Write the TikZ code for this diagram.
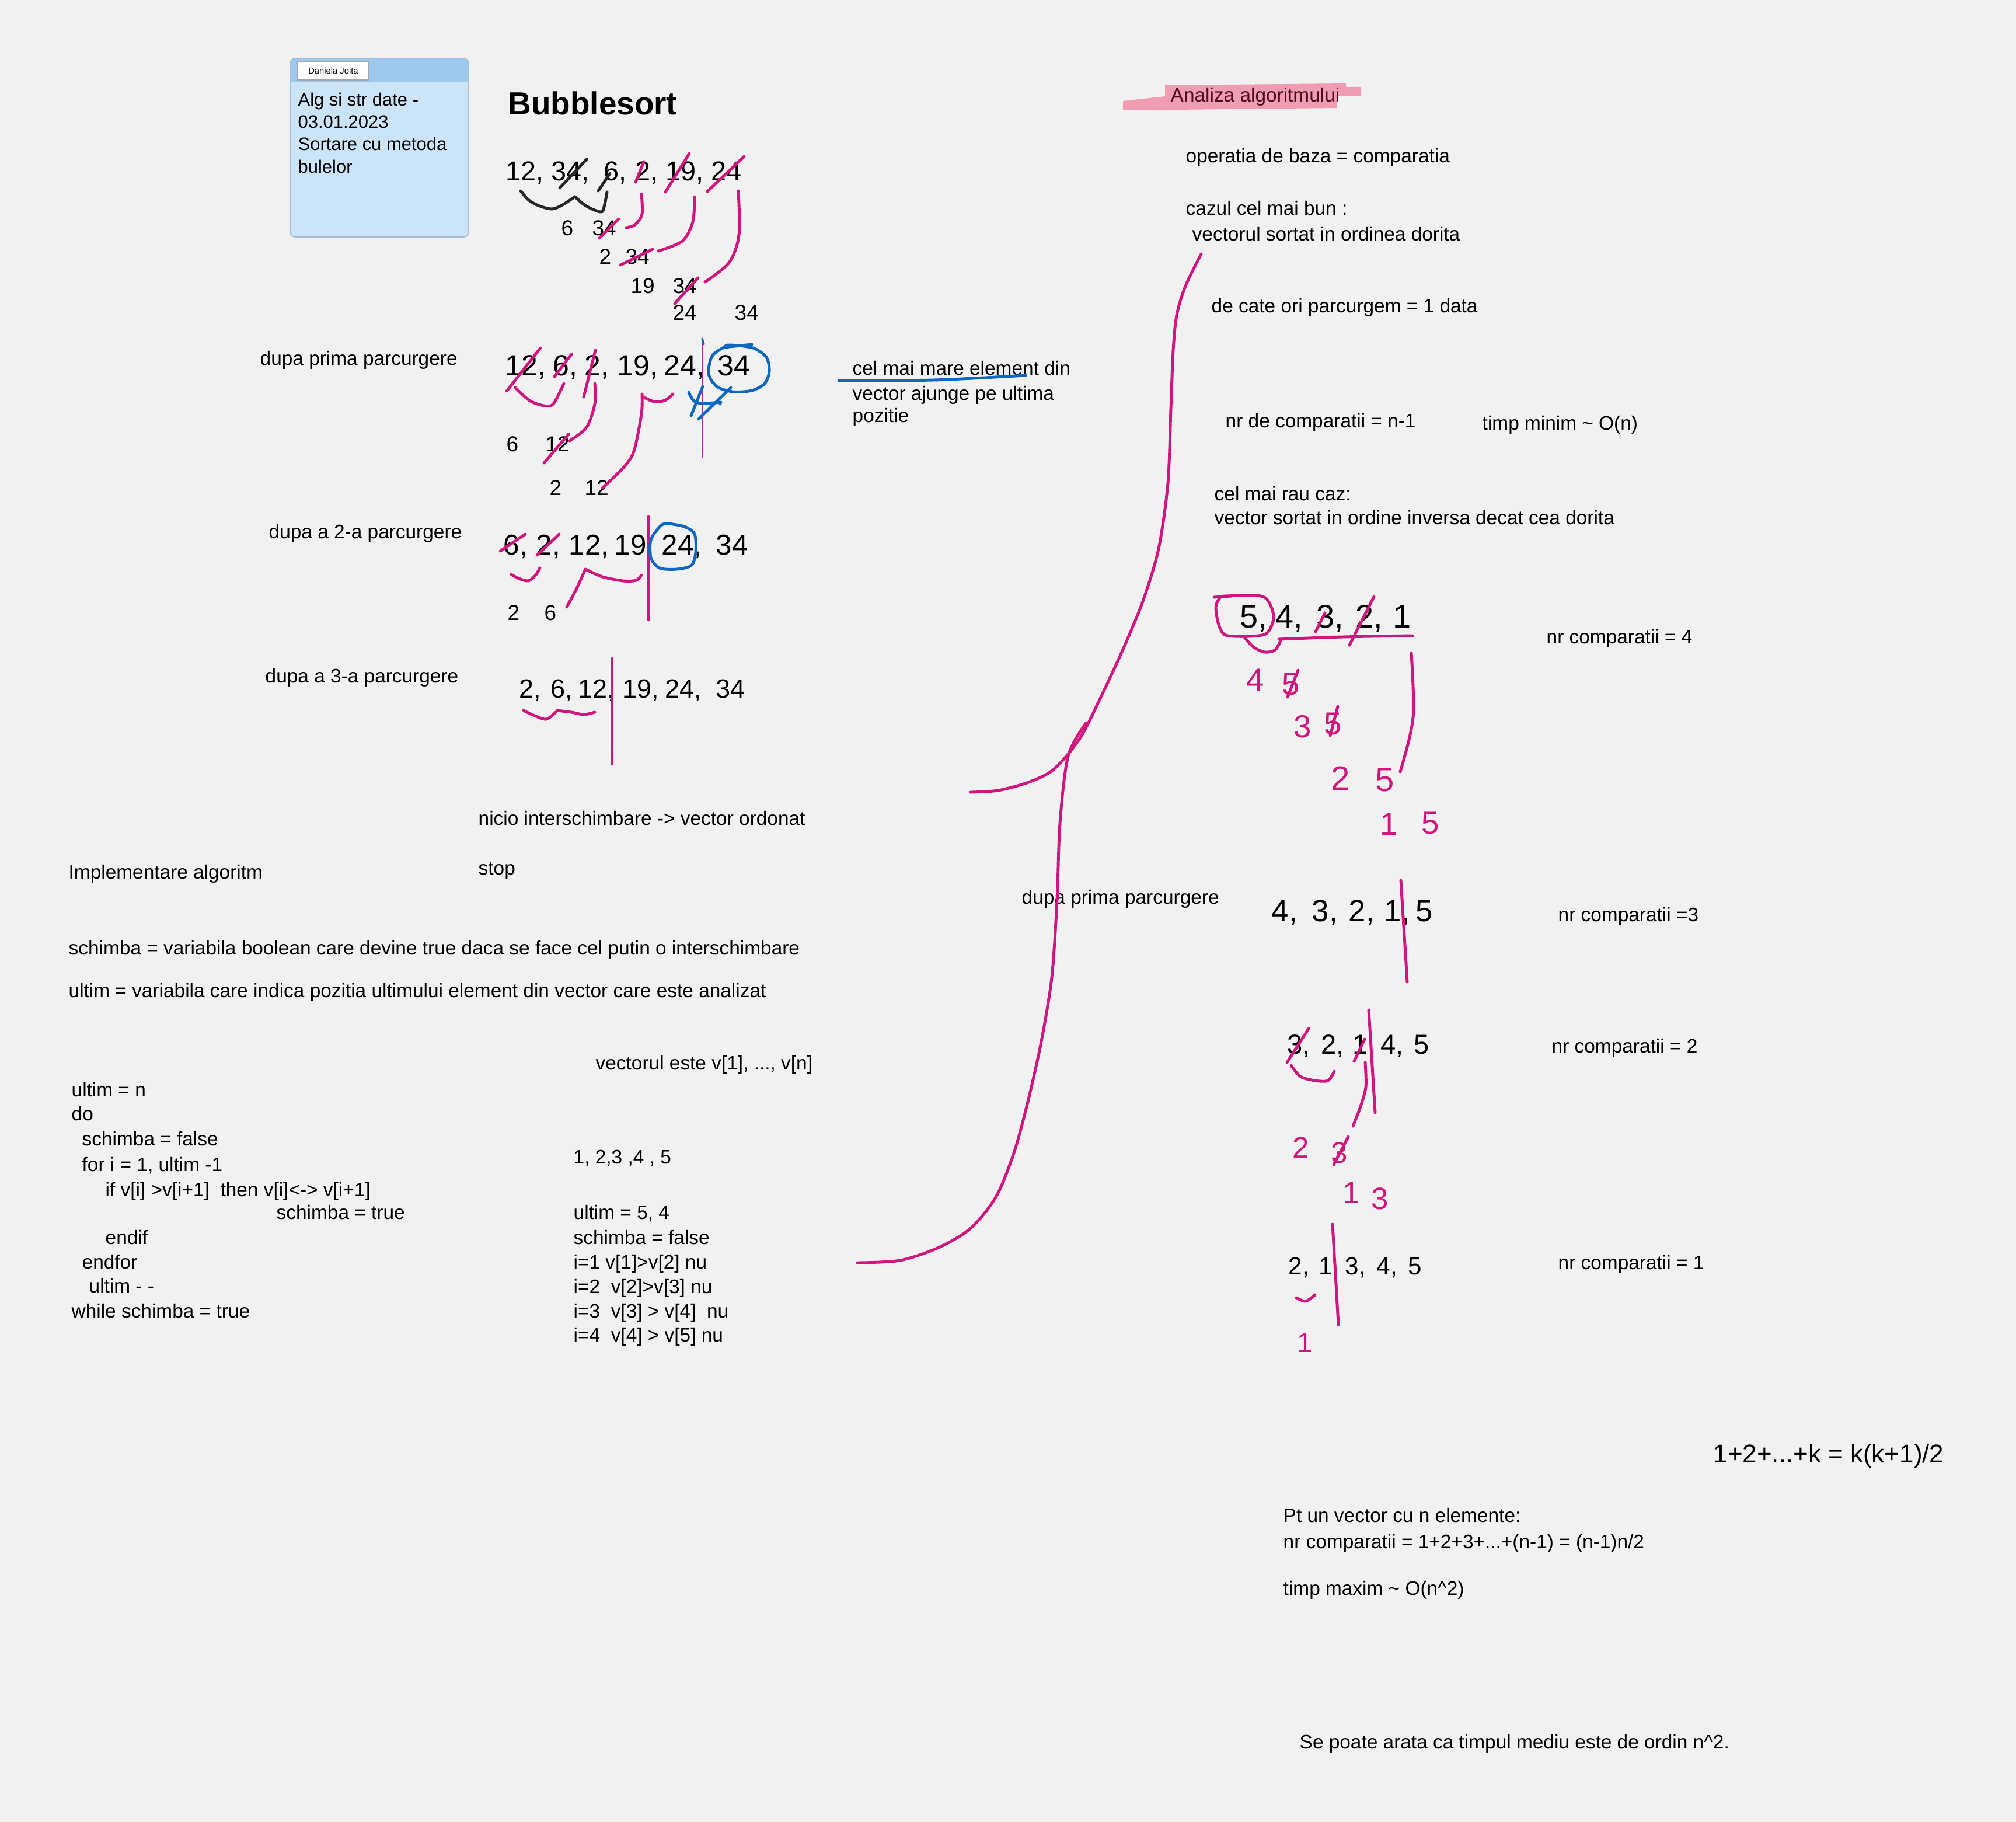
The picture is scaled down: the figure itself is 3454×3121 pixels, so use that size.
\documentclass[tikz,border=0pt]{standalone}
\usepackage{fontspec}
\setmainfont{Liberation Sans}
\definecolor{bg}{RGB}{241,241,241}
\definecolor{pinkink}{RGB}{208,22,125}
\definecolor{blueink}{RGB}{16,103,192}
\definecolor{purpleink}{RGB}{170,50,165}
\definecolor{hl}{RGB}{240,156,178}
\definecolor{maroonink}{RGB}{80,10,35}
\definecolor{notehead}{RGB}{157,201,238}
\definecolor{notebody}{RGB}{204,228,247}
\definecolor{noteborder}{RGB}{160,190,215}
\begin{document}
\begin{tikzpicture}[x=0.01cm,y=-0.01cm,
  txt/.style={anchor=base west,inner sep=0pt,font=\fontsize{9.5pt}{11.5pt}\selectfont},
  dig/.style={anchor=base west,inner sep=0pt,font=\fontsize{#1}{#1}\selectfont},
  pnum/.style={dig=#1,text=pinkink},
  inkp/.style={draw=pinkink,line width=1.4pt,line cap=round,line join=round},
  inkb/.style={draw=blueink,line width=1.4pt,line cap=round,line join=round},
  inkk/.style={draw=black!85,line width=1.4pt,line cap=round,line join=round},
  notetxt/.style={anchor=base west,inner sep=0pt,font=\fontsize{8.8pt}{10pt}\selectfont}]
\fill[bg] (0,0) rectangle (3454,3121);
\useasboundingbox (0,0) rectangle (3454,3121);

% ---------- sticky note ----------
\fill[notebody,rounded corners=2.5pt] (497,100) rectangle (803,406);
\begin{scope}
  \clip[rounded corners=2.5pt] (497,100) rectangle (803,406);
  \fill[notehead] (497,100) rectangle (803,141);
\end{scope}
\draw[noteborder,line width=0.5pt,rounded corners=2.5pt] (497,100) rectangle (803,406);
\draw[gray!70,fill=white,line width=0.4pt] (510,105) rectangle (632,137);
\node[inner sep=0pt,font=\fontsize{4.2pt}{5pt}\selectfont] (tag) at (571,121) {Daniela Joita};
\node[notetxt] (n1) at (510,182) {Alg si str date -};
\node[notetxt] (n2) at (510,220) {03.01.2023};
\node[notetxt] (n3) at (510,258) {Sortare cu metoda};
\node[notetxt] (n4) at (510,297) {bulelor};

% ---------- title ----------
\node[anchor=base west,inner sep=0pt,font=\fontsize{15.6pt}{18pt}\selectfont\bfseries] (title) at (870,197) {Bubblesort};

% ---------- row 1 ----------
\node[dig=13.3pt] (r1a) at (866,310) {12,};
\node[dig=13.3pt] (r1b) at (944,310) {34,};
\node[dig=13.3pt] (r1c) at (1034,310) {6,};
\node[dig=13.3pt] (r1d) at (1088,310) {2,};
\node[dig=13.3pt] (r1e) at (1140,310) {19,};
\node[dig=13.3pt] (r1f) at (1218,310) {24};
\node[dig=10.5pt] (s1a) at (961,403) {6};
\node[dig=10.5pt] (s1b) at (1014,403) {34};
\node[dig=10.5pt] (s2a) at (1026,452) {2};
\node[dig=10.5pt] (s2b) at (1071,452) {34};
\node[dig=10.5pt] (s3a) at (1080,502) {19};
\node[dig=10.5pt] (s3b) at (1152,502) {34};
\node[dig=10.5pt] (s4a) at (1152,548) {24};
\node[dig=10.5pt] (s4b) at (1258,548) {34};

\draw[inkk] (959,322) -- (1005,273);
\draw[inkk] (1025,327) -- (1045,297);
\draw[inkp] (1089,312) -- (1103,277);
\draw[inkp] (1140,329) -- (1181,263);
\draw[inkp] (1212,328) -- (1275,268);
\draw[inkk] plot[smooth] coordinates {(892,327) (905,342) (922,352) (945,358) (962,352) (985,337)};
\draw[inkk] plot[smooth] coordinates {(985,337) (1000,350) (1014,358) (1031,363) (1036,350) (1040,329)};
\draw[inkp] plot[smooth] coordinates {(1099,332) (1100,367) (1088,385) (1073,390)};
\draw[inkp] plot[smooth] coordinates {(1190,337) (1187,380) (1169,413) (1128,430)};
\draw[inkp] plot[smooth] coordinates {(1265,327) (1266,403) (1249,450) (1208,483)};
\draw[inkp] (1027,408) -- (1060,375);
\draw[inkp] (1063,454) -- (1118,427);
\draw[inkp] (1156,520) -- (1196,476);

% ---------- row 2 ----------
\node[txt] (t1) at (445,625) {dupa prima parcurgere};
\node[dig=14.2pt] (r2a) at (865,643) {12,};
\node[dig=14.2pt] (r2b) at (947,643) {6,};
\node[dig=14.2pt] (r2c) at (1001,643) {2,};
\node[dig=14.2pt] (r2d) at (1057,643) {19,};
\node[dig=14.2pt] (r2e) at (1137,643) {24,};
\node[dig=14.2pt] (r2f) at (1229,643) {34};
\node[dig=10.5pt] (u1a) at (867,773) {6};
\node[dig=10.5pt] (u1b) at (934,773) {12};
\node[dig=10.5pt] (u2a) at (941,848) {2};
\node[dig=10.5pt] (u2b) at (1001,848) {12};

\draw[inkp] (868,670) -- (926,596);
\draw[inkp] (950,645) -- (979,607);
\draw[inkp] (1000,680) -- (1020,600);
\draw[inkp] plot[smooth] coordinates {(883,664) (907,686) (932,695) (948,692) (966,657)};
\draw[inkp] plot[smooth] coordinates {(1019,657) (1019,692) (1005,732) (976,755)};
\draw[inkp] plot[smooth] coordinates {(1153,675) (1139,686) (1121,688) (1104,681)};
\draw[inkp] plot[smooth] coordinates {(1100,675) (1099,709) (1086,773) (1068,801) (1032,836)};
\draw[inkp] (932,793) -- (974,744);
\draw[purpleink,line width=0.7pt] (1203,580) -- (1203,785);
\draw[inkb] plot[smooth cycle] coordinates {(1250,591) (1290,596) (1313,612) (1318,636) (1310,657) (1288,669) (1255,671) (1228,662) (1214,640) (1220,610) (1240,595)};
\draw[inkb] (1240,595) -- (1288,590);
\draw[inkb] plot[smooth] coordinates {(1180,672) (1188,686) (1202,691) (1235,689)};
\draw[inkb] (1184,712) -- (1204,662);
\draw[inkb] (1197,718) -- (1252,664);
\fill[blueink] (1234,692) circle (2.5);
\draw[inkb,line width=1pt] (1203,580) -- (1206,590);

\node[txt] (c1) at (1460,642) {cel mai mare element din};
\node[txt] (c2) at (1460,685) {vector ajunge pe ultima};
\node[txt] (c3) at (1460,723) {pozitie};
\draw[inkb] plot[smooth] coordinates {(1437,652) (1600,651) (1757,643)};

% ---------- row 3 ----------
\node[txt] (t2) at (460,922) {dupa a 2-a parcurgere};
\node[dig=14pt] (r3a) at (862,950) {6,};
\node[dig=14pt] (r3b) at (918,950) {2,};
\node[dig=14pt] (r3c) at (974,950) {12,};
\node[dig=14pt] (r3d) at (1052,950) {19,};
\node[dig=14pt] (r3e) at (1133,950) {24,};
\node[dig=14pt] (r3f) at (1226,950) {34};
\node[dig=10.5pt] (v1a) at (869,1062) {2};
\node[dig=10.5pt] (v1b) at (932,1062) {6};
\draw[inkp] (857,944) -- (900,915);
\draw[inkp] (920,951) -- (958,915);
\draw[inkp] (1111,885) -- (1111,1062);
\draw[inkp] plot[smooth] coordinates {(876,984) (889,991) (905,995) (917,986) (925,973)};
\draw[inkp] plot[smooth] coordinates {(971,1040) (987,1010) (1003,975)};
\draw[inkp] plot[smooth] coordinates {(1003,975) (1032,988) (1068,995) (1090,994) (1099,985)};
\draw[inkb] plot[smooth cycle] coordinates {(1140,897) (1172,902) (1190,915) (1192,945) (1185,968) (1160,975) (1130,973) (1115,955) (1115,925) (1128,905)};

% ---------- row 4 ----------
\node[txt] (t3) at (454,1169) {dupa a 3-a parcurgere};
\node[dig=12.8pt] (r4a) at (889,1195) {2,};
\node[dig=12.8pt] (r4b) at (943,1195) {6,};
\node[dig=12.8pt] (r4c) at (990,1195) {12,};
\node[dig=12.8pt] (r4d) at (1066,1195) {19,};
\node[dig=12.8pt] (r4e) at (1139,1195) {24,};
\node[dig=12.8pt] (r4f) at (1226,1195) {34};
\draw[inkp] (1049,1128) -- (1049,1309);
\draw[inkp] plot[smooth] coordinates {(897,1217) (916,1226) (936,1232) (952,1220)};
\draw[inkp] plot[smooth] coordinates {(954,1217) (979,1220) (1000,1224) (1019,1220)};

% ---------- left lower text ----------
\node[txt] (t4) at (819,1413) {nicio interschimbare -> vector ordonat};
\node[txt] (t5) at (819,1498) {stop};
\node[txt] (t6) at (117,1505) {Implementare algoritm};
\node[txt] (t7) at (117,1635) {schimba = variabila boolean care devine true daca se face cel putin o interschimbare};
\node[txt] (t8) at (117,1708) {ultim = variabila care indica pozitia ultimului element din vector care este analizat};
\node[txt] (t9) at (1020,1832) {vectorul este v[1], ..., v[n]};
\node[txt] (k1) at (122,1878) {ultim = n};
\node[txt] (k2) at (122,1919) {do};
\node[txt] (k3) at (140,1962) {schimba = false};
\node[txt] (k4) at (140,2006) {for i = 1, ultim -1};
\node[txt] (k5) at (180,2049) {if v[i] >v[i+1] \ then v[i]<-> v[i+1]};
\node[txt] (k6) at (473,2088) {schimba = true};
\node[txt] (k7) at (180,2131) {endif};
\node[txt] (k8) at (140,2173) {endfor};
\node[txt] (k9) at (152,2214) {ultim - -};
\node[txt] (k10) at (122,2257) {while schimba = true};
\node[txt] (e1) at (982,1993) {1, 2,3 ,4 , 5};
\node[txt] (e2) at (982,2088) {ultim = 5, 4};
\node[txt] (e3) at (982,2131) {schimba = false};
\node[txt] (e4) at (982,2173) {i=1 v[1]>v[2] nu};
\node[txt] (e5) at (982,2215) {i=2 \ v[2]>v[3] nu};
\node[txt] (e6) at (982,2257) {i=3 \ v[3] > v[4] \ nu};
\node[txt] (e7) at (982,2298) {i=4 \ v[4] > v[5] nu};

% ---------- right column ----------
\fill[hl] (1924,173) -- (1996,165) -- (1996,146) -- (2306,143) -- (2306,149) -- (2332,149) -- (2332,164) -- (2292,165) -- (2290,185) -- (1924,189) -- cycle;
\node[txt,text=maroonink] (h1) at (2005,175) {Analiza algoritmului};
\node[txt] (a1) at (2031,278) {operatia de baza = comparatia};
\node[txt] (a2) at (2031,368) {cazul cel mai bun :};
\node[txt] (a3) at (2042,412) {vectorul sortat in ordinea dorita};
\node[txt] (a4) at (2075,535) {de cate ori parcurgem = 1 data};
\node[txt] (a5) at (2099,732) {nr de comparatii = n-1};
\node[txt] (a6) at (2539,736) {timp minim \textasciitilde{} O(n)};
\node[txt] (a7) at (2080,857) {cel mai rau caz:};
\node[txt] (a8) at (2080,898) {vector sortat in ordine inversa decat cea dorita};

\node[dig=15.9pt] (q1a) at (2124,1075) {5,};
\node[dig=15.9pt] (q1b) at (2185,1075) {4,};
\node[dig=15.9pt] (q1c) at (2255,1075) {3,};
\node[dig=15.9pt] (q1d) at (2322,1075) {2,};
\node[dig=15.9pt] (q1e) at (2386,1075) {1};
\node[txt] (m1) at (2649,1102) {nr comparatii = 4};
\draw[inkp] plot[smooth cycle] coordinates {(2100,1021) (2160,1021) (2176,1035) (2182,1060) (2170,1085) (2140,1090) (2100,1088) (2088,1070) (2083,1040) (2090,1024)};
\draw[inkp] (2080,1023) -- (2110,1021);
\draw[inkp] (2254,1082) -- (2270,1050);
\draw[inkp] (2312,1105) -- (2354,1022);
\draw[inkp] plot[smooth] coordinates {(2191,1095) (2300,1091) (2420,1089)};
\draw[inkp] plot[smooth] coordinates {(2131,1090) (2147,1108) (2167,1117) (2185,1113) (2195,1095)};
\draw[inkp] plot[smooth] coordinates {(2418,1118) (2422,1213) (2415,1263) (2399,1322)};
\node[pnum=15.5pt] (p1) at (2135,1183) {4};
\node[pnum=15.5pt] (p2) at (2196,1190) {5};
\draw[inkp] (2206,1194) -- (2224,1148);
\node[pnum=15.5pt] (p3) at (2216,1263) {3};
\node[pnum=15.5pt] (p4) at (2268,1258) {5};
\draw[inkp] (2279,1260) -- (2292,1210);
\node[pnum=16.5pt] (p5) at (2280,1353) {2};
\node[pnum=16.5pt] (p6) at (2356,1355) {5};
\node[pnum=15.5pt] (p7) at (2364,1430) {1};
\node[pnum=15.5pt] (p8) at (2435,1428) {5};

\node[txt] (t10) at (1750,1548) {dupa prima parcurgere};
\node[dig=15pt] (q2a) at (2178,1578) {4,};
\node[dig=15pt] (q2b) at (2247,1578) {3,};
\node[dig=15pt] (q2c) at (2310,1578) {2,};
\node[dig=15pt] (q2d) at (2371,1578) {1,};
\node[dig=15pt] (q2e) at (2425,1578) {5};
\node[txt] (m2) at (2669,1578) {nr comparatii =3};
\draw[inkp] (2400,1508) -- (2411,1682);

\node[dig=13.4pt] (q3a) at (2205,1805) {3,};
\node[dig=13.4pt] (q3b) at (2263,1805) {2,};
\node[dig=13.4pt] (q3c) at (2317,1805) {1,};
\node[dig=13.4pt] (q3d) at (2365,1805) {4,};
\node[dig=13.4pt] (q3e) at (2422,1805) {5};
\node[txt] (m3) at (2658,1803) {nr comparatii = 2};
\draw[inkp] (2345,1730) -- (2356,1906);
\draw[inkp] (2205,1820) -- (2242,1762);
\draw[inkp] (2320,1818) -- (2338,1780);
\draw[inkp] plot[smooth] coordinates {(2212,1825) (2228,1844) (2253,1851) (2275,1851) (2286,1835)};
\draw[inkp] plot[smooth] coordinates {(2339,1820) (2340,1862) (2331,1895) (2318,1929)};
\node[pnum=14.5pt] (p9) at (2214,1983) {2};
\node[pnum=14.5pt] (p10) at (2280,1992) {3};
\draw[inkp] (2285,1995) -- (2310,1947);
\node[pnum=15pt] (p11) at (2300,2061) {1};
\node[pnum=15pt] (p12) at (2349,2071) {3};

\node[dig=12pt] (q4a) at (2207,2183) {2,};
\node[dig=12pt] (q4b) at (2259,2183) {1,};
\node[dig=12pt] (q4c) at (2304,2183) {3,};
\node[dig=12pt] (q4d) at (2358,2183) {4,};
\node[dig=12pt] (q4e) at (2412,2183) {5};
\node[txt] (m4) at (2669,2174) {nr comparatii = 1};
\draw[inkp] (2283,2097) -- (2293,2269);
\draw[inkp] plot[smooth] coordinates {(2221,2223) (2237,2229) (2253,2218)};
\node[pnum=13.5pt] (p13) at (2222,2316) {1};

\node[anchor=base west,inner sep=0pt,font=\fontsize{12.5pt}{15pt}\selectfont] (f1) at (2935,2505) {1+2+...+k = k(k+1)/2};
\node[txt] (b1) at (2198,2607) {Pt un vector cu n elemente:};
\node[txt] (b2) at (2198,2652) {nr comparatii = 1+2+3+...+(n-1) = (n-1)n/2};
\node[txt] (b3) at (2198,2732) {timp maxim \textasciitilde{} O(n\textasciicircum 2)};
\node[txt] (b4) at (2226,2995) {Se poate arata ca timpul mediu este de ordin n\textasciicircum 2.};

% ---------- big brace curves ----------
\draw[inkp] plot[smooth] coordinates {(2058,435) (2031,490) (2016,540) (2010,600) (2006,700) (2001,827) (1985,940) (1958,1030) (1925,1110) (1888,1190) (1850,1265) (1805,1318) (1762,1340) (1710,1354) (1663,1357)};
\draw[inkp] plot[smooth] coordinates {(1861,1238) (1830,1295) (1816,1410) (1811,1542) (1802,1674) (1784,1784) (1762,1883) (1738,1972) (1707,2049) (1663,2104) (1608,2137) (1542,2159) (1469,2163)};
\end{tikzpicture}
\end{document}
